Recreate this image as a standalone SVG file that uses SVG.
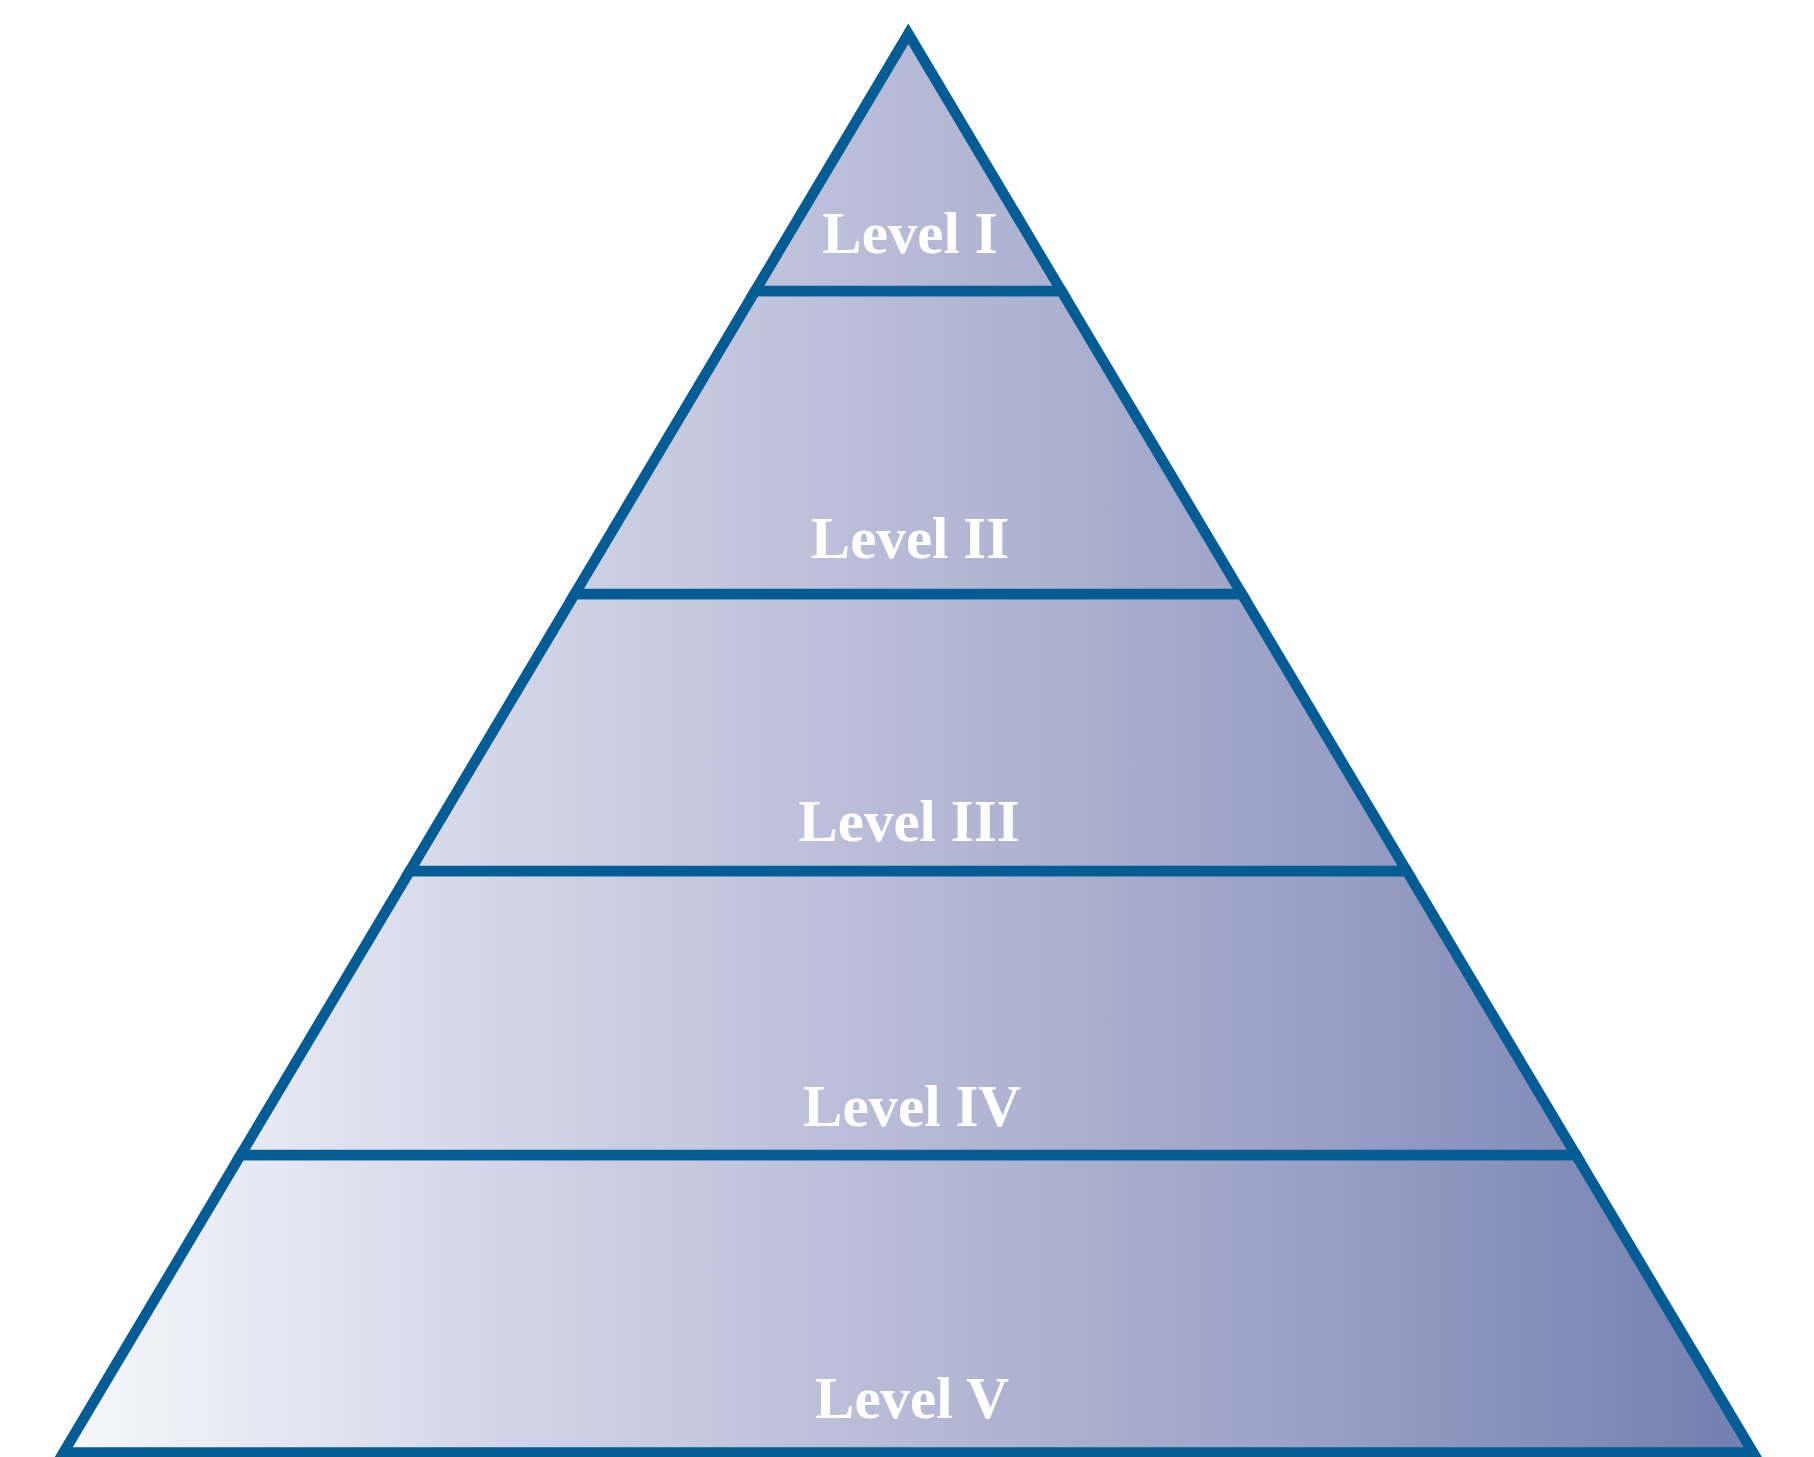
<svg xmlns="http://www.w3.org/2000/svg" width="1814" height="1457" viewBox="0 0 1814 1457">
<defs>
<linearGradient id="g" gradientUnits="userSpaceOnUse" x1="55" y1="0" x2="1762" y2="0">
<stop offset="0" stop-color="#f7f8fc"/>
<stop offset="0.26" stop-color="#d3d5e7"/>
<stop offset="0.5" stop-color="#b6bad6"/>
<stop offset="0.73" stop-color="#9ba1c6"/>
<stop offset="1" stop-color="#727eaf"/>
</linearGradient>
<style>
.tier{fill:url(#g);stroke:#035c94;stroke-width:10.5;stroke-linejoin:miter;stroke-miterlimit:10}
.lbl{font-family:"Liberation Serif","Times New Roman",serif;font-weight:bold;font-size:59px;fill:#ffffff;text-anchor:middle}
</style>
</defs>
<rect width="1814" height="1457" fill="#ffffff"/>
<g id="level5">
<polygon class="tier" points="240.6,1155 1576,1155 1753.1,1452.5 63.5,1452.5"/>
<text class="lbl" x="912" y="1418">Level V</text>
</g>
<g id="level4">
<polygon class="tier" points="409.8,871 1406.8,871 1576,1155 240.6,1155"/>
<text class="lbl" x="912" y="1126">Level IV</text>
</g>
<g id="level3">
<polygon class="tier" points="574.7,594 1241.9,594 1406.8,871 409.8,871"/>
<text class="lbl" x="909" y="841">Level III</text>
</g>
<g id="level2">
<polygon class="tier" points="755.1,291 1061.5,291 1241.9,594 574.7,594"/>
<text class="lbl" x="910" y="558">Level II</text>
</g>
<g id="level1">
<polygon class="tier" points="908.3,33.8 1061.5,291 755.1,291"/>
<text class="lbl" x="910" y="253">Level I</text>
</g>
<g id="connectors"></g>
</svg>
